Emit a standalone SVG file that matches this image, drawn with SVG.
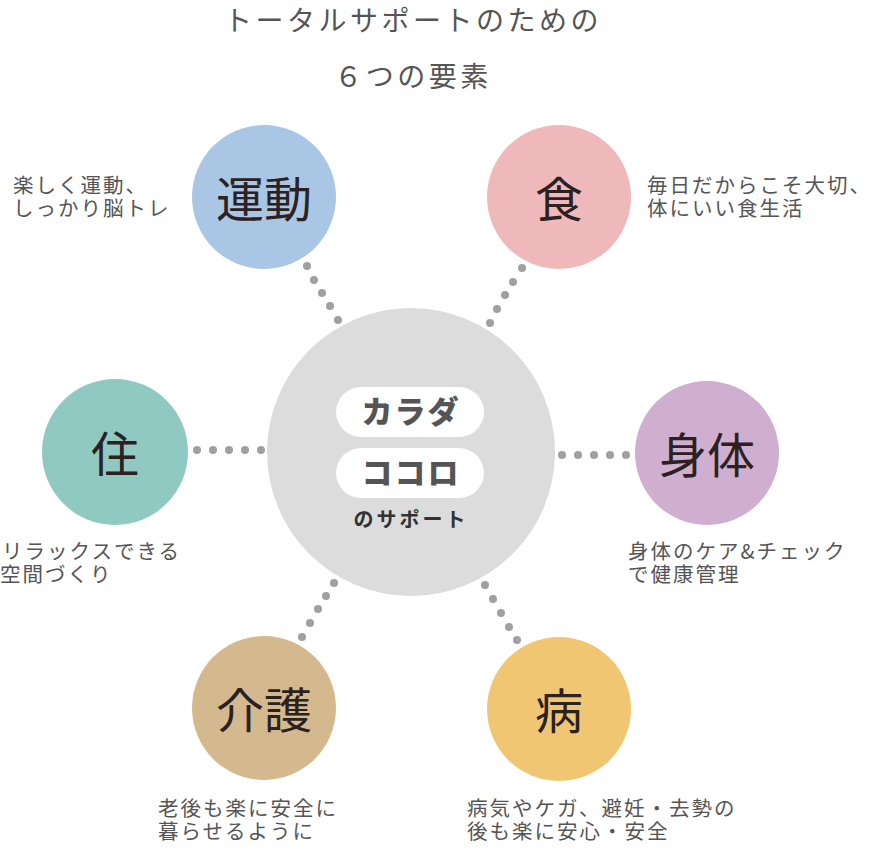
<svg xmlns="http://www.w3.org/2000/svg" width="870" height="852" viewBox="0 0 870 852">
<style>
text{font-family:"Noto Sans CJK JP","Noto Sans",sans-serif}
.title{font-size:28px;fill:#555;letter-spacing:3.5px;text-anchor:middle}
.lbl{font-size:48px;fill:#2b2121;text-anchor:middle;dominant-baseline:central}
.desc{font-size:20.5px;fill:#555;letter-spacing:2px}
.dot{fill:#a0a0a0}
.pill{fill:#fff}
.pt{font-size:31px;font-weight:900;fill:#555;text-anchor:middle;letter-spacing:2px}
.sub{font-size:20px;font-weight:700;fill:#333;text-anchor:middle;letter-spacing:3px}
</style>
<rect width="870" height="852" fill="#fff"/>
<g id="title">
<text class="title" x="413" y="31">トータルサポートのための</text>
<text class="title" x="413" y="87">６つの要素</text>
</g>
<g id="connectors">
<circle class="dot" cx="307" cy="266" r="4"/><circle class="dot" cx="314" cy="280" r="4"/><circle class="dot" cx="322" cy="293" r="4"/><circle class="dot" cx="330" cy="306" r="4"/><circle class="dot" cx="338" cy="320" r="4"/>
<circle class="dot" cx="522" cy="268" r="4"/><circle class="dot" cx="513" cy="282" r="4"/><circle class="dot" cx="505" cy="295" r="4"/><circle class="dot" cx="497" cy="309" r="4"/><circle class="dot" cx="490" cy="323" r="4"/>
<circle class="dot" cx="197" cy="450" r="4"/><circle class="dot" cx="213" cy="450" r="4"/><circle class="dot" cx="229" cy="450" r="4"/><circle class="dot" cx="245" cy="450" r="4"/><circle class="dot" cx="261" cy="450" r="4"/>
<circle class="dot" cx="562" cy="455" r="4"/><circle class="dot" cx="578" cy="455" r="4"/><circle class="dot" cx="594" cy="455" r="4"/><circle class="dot" cx="610" cy="455" r="4"/><circle class="dot" cx="626" cy="455" r="4"/>
<circle class="dot" cx="334" cy="583" r="4"/><circle class="dot" cx="326" cy="596" r="4"/><circle class="dot" cx="318" cy="609" r="4"/><circle class="dot" cx="310" cy="623" r="4"/><circle class="dot" cx="302" cy="637" r="4"/>
<circle class="dot" cx="485" cy="585" r="4"/><circle class="dot" cx="493" cy="599" r="4"/><circle class="dot" cx="501" cy="613" r="4"/><circle class="dot" cx="509" cy="627" r="4"/><circle class="dot" cx="517" cy="640" r="4"/>
</g>
<g id="center">
<circle cx="411" cy="452" r="144" fill="#dcdcdc"/>
<rect class="pill" x="336" y="387" width="148" height="50" rx="25"/>
<rect class="pill" x="336" y="448" width="148" height="50" rx="25"/>
<text class="pt" x="411" y="423">カラダ</text>
<text class="pt" x="411" y="484">ココロ</text>
<text class="sub" x="411" y="527">のサポート</text>
</g>
<g id="undo">
<circle cx="264" cy="197" r="72" fill="#a9c6e4"/>
<text class="lbl" x="264" y="196">運動</text>
<text class="desc" x="13" y="193">楽しく運動、</text>
<text class="desc" x="13" y="216">しっかり脳トレ</text>
</g>
<g id="shoku">
<circle cx="559" cy="197" r="72" fill="#efb8bb"/>
<text class="lbl" x="559" y="196">食</text>
<text class="desc" x="647" y="193">毎日だからこそ大切、</text>
<text class="desc" x="647" y="216">体にいい食生活</text>
</g>
<g id="ju">
<circle cx="115" cy="452" r="73" fill="#90c9c2"/>
<text class="lbl" x="115" y="451">住</text>
<text class="desc" x="2" y="559">リラックスできる</text>
<text class="desc" x="0" y="582">空間づくり</text>
</g>
<g id="shintai">
<circle cx="707" cy="453" r="72" fill="#cfaecf"/>
<text class="lbl" x="707" y="452">身体</text>
<text class="desc" x="628" y="559">身体のケア&amp;チェック</text>
<text class="desc" x="628" y="582">で健康管理</text>
</g>
<g id="kaigo">
<circle cx="264" cy="708" r="72" fill="#d5b98e"/>
<text class="lbl" x="264" y="707">介護</text>
<text class="desc" x="158" y="816">老後も楽に安全に</text>
<text class="desc" x="158" y="839">暮らせるように</text>
</g>
<g id="byo">
<circle cx="559" cy="709" r="72" fill="#f0c673"/>
<text class="lbl" x="559" y="708">病</text>
<text class="desc" x="467" y="816">病気やケガ、避妊・去勢の</text>
<text class="desc" x="467" y="839">後も楽に安心・安全</text>
</g>
</svg>
